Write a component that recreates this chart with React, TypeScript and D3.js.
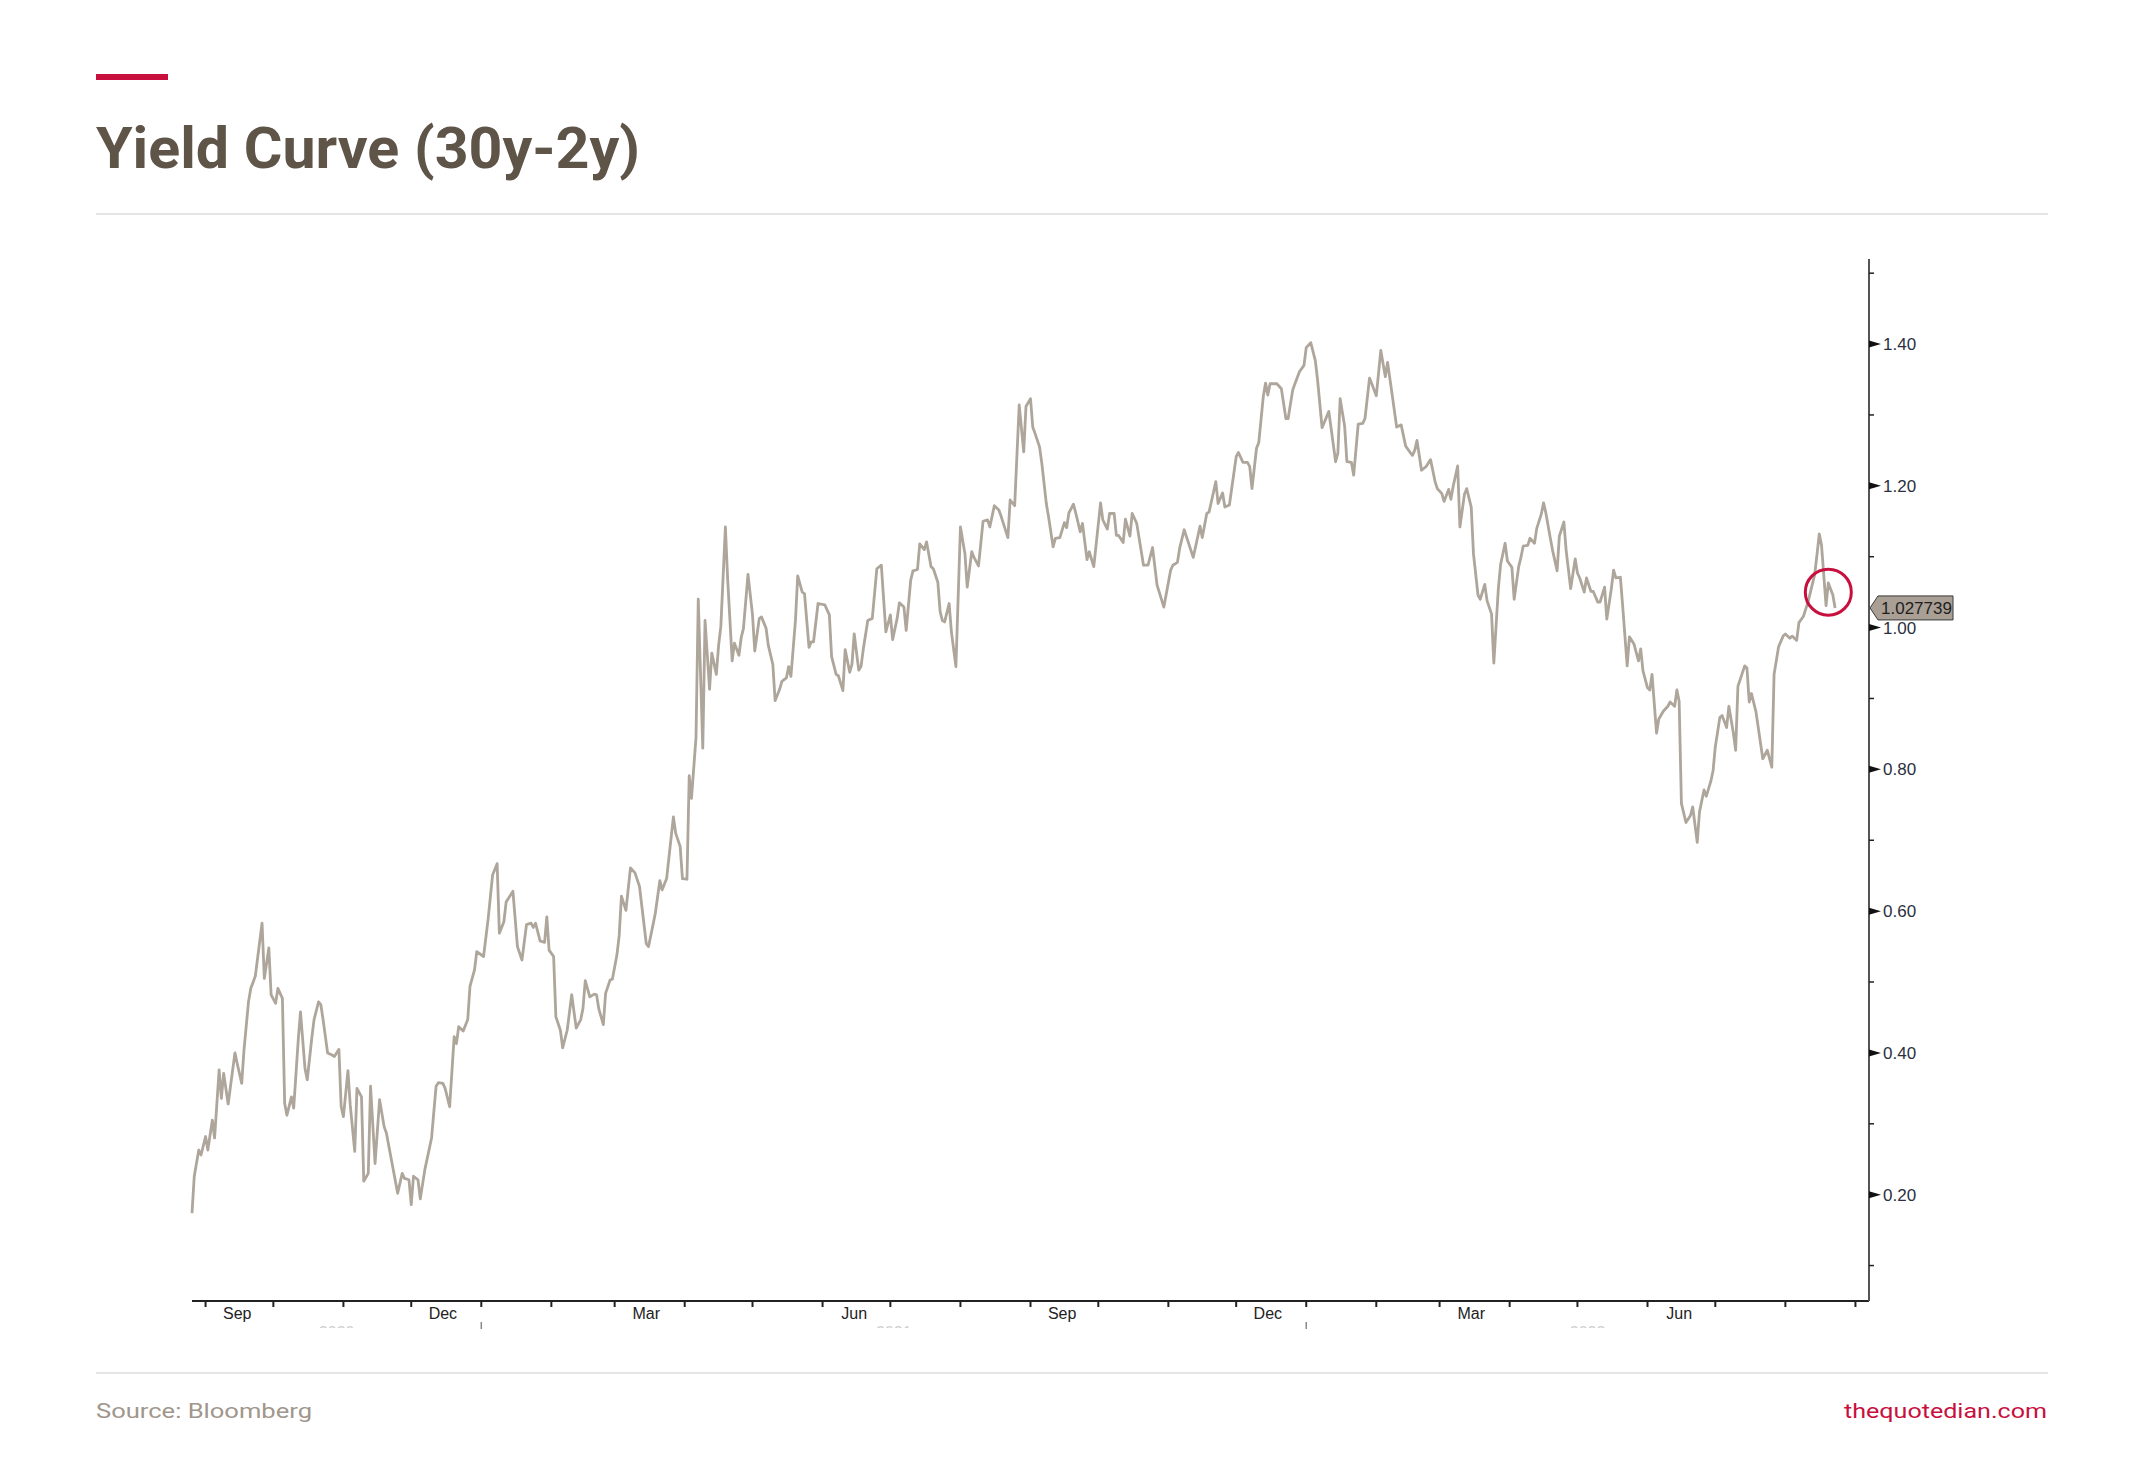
import { line, scaleLinear, scaleTime, timeDay, timeFormat, timeMonth } from 'd3';

const width = 2145;
const height = 1458;

// days counted from 2020-09-01
const days = [
	-6, -5, -3, -2, 0, 1, 3, 4, 6, 7, 8, 10, 11, 13, 14, 16, 17, 19, 20, 22, 25, 26, 28, 29, 31, 32, 34,
	35, 36, 38, 39, 41, 42, 44, 45, 47, 48, 50, 51, 52, 54, 56, 57, 59, 60, 61, 63, 64, 66, 67, 69, 70,
	72, 73, 75, 77, 79, 80, 85, 87, 88, 90, 91, 92, 94, 95, 97, 100, 102, 103, 105, 106, 108, 110, 111,
	112, 114, 116, 117, 119, 120, 123, 125, 127, 129, 130, 132, 133, 136, 138, 140, 142, 144, 145, 146,
	148, 150, 151, 152, 154, 155, 157, 158, 160, 162, 164, 166, 167, 168, 170, 172, 173,
	174, 176, 177, 179, 180, 182, 183, 184, 186, 188, 190, 192, 193, 195, 196, 198, 199, 201, 202, 204,
	207, 208, 210, 211, 213, 214, 215, 217, 218, 220, 221, 223, 224, 226, 227, 228, 230, 231, 233, 234,
	236, 237, 238, 240, 242, 243, 245, 246, 248, 249, 251, 252, 254, 255, 257, 258, 259, 261, 262, 264,
	265, 267, 268, 269, 271, 274, 276, 277, 279, 280, 282, 283, 285, 286, 287, 289, 290, 291, 293, 295,
	297, 299, 301, 303, 304, 306, 307, 309, 310, 312, 313, 315, 316, 318, 319, 321, 322, 324, 325, 326,
	327, 329, 330, 332, 334, 336, 337, 339, 340, 342, 344, 346, 347, 349, 351, 352, 355, 356,
	358, 360, 362, 363, 365, 366, 367, 369, 370, 372, 373, 375, 376, 378, 380, 381, 382, 384, 385, 387,
	388, 390, 391, 393, 396, 397, 399, 400, 402, 403, 404, 406, 407, 409, 410, 412, 415, 417, 419, 421,
	424, 427, 428, 430, 431, 433, 437, 440, 441, 443, 444, 447, 448, 450, 451, 453, 456, 457, 459, 461,
	462, 463, 465, 466, 468, 469, 470, 471, 474, 476, 478, 479, 481, 482, 484, 486, 487, 489, 491, 492,
	494, 497, 500, 501, 502, 504, 505, 507, 508, 510, 512, 513, 515, 516, 518, 520, 522, 523, 525, 527,
	529, 531, 533, 534, 535, 536, 538, 540, 542,
	544, 545, 547, 548, 550, 551, 552, 554, 555, 557, 558, 560, 561, 563, 564, 566, 567, 569, 570, 572,
	573, 575, 576, 578, 579, 581, 582, 583, 585, 586, 588, 589, 591, 592, 593, 595, 596, 598, 599, 601,
	602, 604, 606, 607, 608, 610, 611, 613, 614, 616, 617, 619, 620, 622, 623, 624, 626, 627, 629, 630,
	632, 634, 635, 636, 638, 639, 640, 642, 643, 645, 647, 648, 650, 651, 652, 653, 655, 657, 658, 660,
	661, 663, 664, 666, 667, 668, 670, 671, 673, 674, 676, 677, 678, 681, 682, 683, 684, 686, 688, 689,
	691, 693, 694, 696, 698, 699, 701, 702, 704, 705, 707, 709, 712, 714, 715, 717, 718, 720, 721,
];

const values = [
	0.174, 0.226, 0.263, 0.256, 0.282, 0.263, 0.305, 0.28, 0.376, 0.336, 0.371, 0.328, 0.352, 0.4, 0.385,
	0.357, 0.404, 0.472, 0.491, 0.508, 0.583, 0.505, 0.548, 0.482, 0.47, 0.491, 0.477, 0.329, 0.312,
	0.338, 0.322, 0.418, 0.458, 0.378, 0.362, 0.421, 0.447, 0.472, 0.468, 0.447, 0.4, 0.397, 0.395,
	0.405, 0.324, 0.31, 0.375, 0.327, 0.261, 0.35, 0.338, 0.219, 0.23, 0.353, 0.244, 0.334, 0.296, 0.287,
	0.202, 0.23, 0.223, 0.221, 0.186, 0.226, 0.221, 0.194, 0.235, 0.28, 0.353, 0.358, 0.357, 0.35, 0.324,
	0.423, 0.413, 0.437, 0.431, 0.447, 0.494, 0.517, 0.543, 0.536, 0.588, 0.651, 0.667, 0.569, 0.585,
	0.613, 0.628, 0.55, 0.531, 0.581, 0.583, 0.577, 0.583, 0.558, 0.556, 0.592, 0.545, 0.536, 0.451,
	0.432, 0.407, 0.432, 0.482, 0.435, 0.447, 0.463, 0.502, 0.479, 0.483, 0.482,
	0.462, 0.44, 0.484, 0.503, 0.504, 0.538, 0.565, 0.621, 0.601, 0.661, 0.654, 0.635, 0.608, 0.554,
	0.55, 0.581, 0.597, 0.643, 0.63, 0.646, 0.733, 0.71, 0.691, 0.646, 0.645, 0.791, 0.759, 0.845, 1.04,
	0.83, 1.01, 0.913, 0.964, 0.934, 0.975, 1.002, 1.142, 1.069, 0.953, 0.978, 0.961, 0.986, 0.999,
	1.075, 1.018, 0.967, 1.013, 1.015, 0.999, 0.975, 0.948, 0.897, 0.913, 0.924, 0.929, 0.945, 0.931,
	1.01, 1.073, 1.05, 1.048, 0.972, 0.98, 0.98, 1.034, 1.032, 1.018, 0.959, 0.934, 0.932, 0.911, 0.969,
	0.937, 0.948, 0.991, 0.94, 0.945, 0.969, 1.01, 1.013, 1.083, 1.088, 0.994, 1.018, 0.983, 1.013,
	1.035, 1.029, 0.996, 1.067, 1.08, 1.082, 1.118, 1.11, 1.121, 1.086, 1.083, 1.064, 1.023, 1.01, 1.008,
	1.034, 0.994, 0.945, 1.142, 1.104, 1.057, 1.107, 1.099, 1.087, 1.15, 1.152, 1.142, 1.172, 1.166,
	1.157, 1.127, 1.18,
	1.172, 1.314, 1.248, 1.312, 1.323, 1.283, 1.274, 1.255, 1.232, 1.175, 1.156, 1.114, 1.126, 1.127,
	1.148, 1.141, 1.162, 1.174, 1.162, 1.135, 1.147, 1.096, 1.107, 1.086, 1.176, 1.152, 1.139, 1.161,
	1.161, 1.13, 1.13, 1.12, 1.153, 1.129, 1.161, 1.147, 1.088, 1.088, 1.113, 1.06, 1.029, 1.081, 1.088,
	1.092, 1.112, 1.138, 1.099, 1.143, 1.127, 1.161, 1.163, 1.206, 1.175, 1.19, 1.17, 1.173, 1.241,
	1.247, 1.233, 1.233, 1.227, 1.196, 1.253, 1.261, 1.326, 1.345, 1.328, 1.344, 1.344, 1.337, 1.295,
	1.295, 1.335, 1.344, 1.361, 1.37, 1.395, 1.402, 1.377, 1.35, 1.282, 1.305, 1.234, 1.246, 1.323,
	1.284, 1.234, 1.233, 1.215, 1.287, 1.288, 1.295, 1.352, 1.344, 1.327, 1.391, 1.354, 1.374, 1.329,
	1.283, 1.286, 1.256, 1.247, 1.243, 1.25, 1.264, 1.222, 1.227, 1.237,
	1.206, 1.196, 1.189, 1.178, 1.195, 1.181, 1.199, 1.228, 1.142, 1.188, 1.196, 1.17, 1.104, 1.046,
	1.04, 1.061, 1.038, 1.019, 0.95, 1.055, 1.089, 1.119, 1.094, 1.085, 1.04, 1.086, 1.099, 1.115, 1.116,
	1.126, 1.119, 1.14, 1.16, 1.176, 1.162, 1.126, 1.109, 1.08, 1.129, 1.149, 1.109, 1.055, 1.097, 1.077,
	1.07, 1.05, 1.07, 1.051, 1.051, 1.036, 1.036, 1.057, 1.012, 1.055, 1.081, 1.07, 1.071, 1.031, 0.946,
	0.987, 0.977, 0.953, 0.97, 0.939, 0.915, 0.912, 0.934, 0.851, 0.871, 0.882, 0.889, 0.895, 0.889,
	0.912, 0.896, 0.752, 0.725, 0.735, 0.747, 0.697, 0.74, 0.771, 0.762, 0.783, 0.798, 0.832, 0.873,
	0.876, 0.859, 0.889, 0.851, 0.827, 0.917, 0.946, 0.943, 0.895, 0.907, 0.881, 0.837, 0.815, 0.827,
	0.803, 0.934, 0.973, 0.988, 0.991, 0.985, 0.988, 0.982, 1.007, 1.016, 1.036, 1.075, 1.132, 1.116,
	1.031, 1.063, 1.046, 1.027739,
];

const lastValue = 1.027739;
const majorTicks = [0.2, 0.4, 0.6, 0.8, 1.0, 1.2, 1.4];
const minorTicks = [0.1, 0.3, 0.5, 0.7, 0.9, 1.1, 1.3, 1.5];
const quarterMonths = [2, 5, 8, 11];
const yearLabels = ['2020', '2021', '2022'];

const base = new Date(2020, 8, 1);
const toDate = (d: number) => timeDay.offset(base, d);

const lineColor = '#aea59b';
const red = '#c8103e';

const margin = { left: 192, right: 1869, top: 259, bottom: 1301 };

const App = () => {
	const data = days.map((d, i) => ({ date: toDate(d), value: values[i] }));

	const xScale = scaleTime()
		.domain([toDate(-6), toDate(736)])
		.range([margin.left, margin.right]);
	const yScale = scaleLinear().domain([0.05, 1.52]).range([margin.bottom, margin.top]);

	const months = timeMonth.range(toDate(-6), toDate(737));
	const monthFormat = timeFormat('%b');
	const axisX = margin.right;
	const axisY = margin.bottom;

	const path =
		line<{ date: Date; value: number }>()
			.x(d => xScale(d.date))
			.y(d => yScale(d.value))(data) || '';

	const last = data[data.length - 1];
	const ly = yScale(lastValue);

	// year labels centred on the visible part of each year, clipped like the original
	const yearCentres = yearLabels.map(y => {
		const start = Math.max(+new Date(+y, 0, 1), +toDate(-6));
		const end = Math.min(+new Date(+y + 1, 0, 1), +toDate(736));
		return (xScale(new Date(start)) + xScale(new Date(end))) / 2;
	});

	const monthLabels = months
		.filter(m => quarterMonths.includes(m.getMonth()))
		.map(m => ({ m, x: xScale(new Date(m.getFullYear(), m.getMonth(), 15)) }))
		.filter(d => d.x < axisX);

	return (
		<svg
			width={width}
			height={height}
			style={{ position: 'absolute', left: 0, top: 0, background: '#fff' }}
		>
			<defs>
				<clipPath id="yearClip">
					<rect x={0} y={1322} width={width} height={6} />
				</clipPath>
			</defs>
			{/* header */}
			<rect x={96} y={74} width={72} height={6} fill={red} />
			<text
				x={96}
				y={168}
				fontFamily="Roboto"
				fontWeight={700}
				fontSize={58}
				fill="#5f5448"
				textLength={544}
				lengthAdjust="spacingAndGlyphs"
			>
				Yield Curve (30y-2y)
			</text>
			<line x1={96} x2={2048} y1={214} y2={214} stroke="#dcdcdc" strokeWidth={1.5} />

			{/* x axis */}
			<line x1={margin.left} x2={axisX} y1={axisY} y2={axisY} stroke="#222" strokeWidth={2} />
			{months.map(m => (
				<g key={+m}>
					<line
						x1={xScale(m)}
						x2={xScale(m)}
						y1={axisY}
						y2={axisY + 6}
						stroke="#222"
						strokeWidth={2}
					/>
					{m.getMonth() === 0 && (
						<line
							x1={xScale(m)}
							x2={xScale(m)}
							y1={axisY + 21}
							y2={axisY + 28}
							stroke="#888"
							strokeWidth={1.5}
						/>
					)}
				</g>
			))}
			{monthLabels.map(({ m, x }) => (
				<text
					key={'l' + +m}
					x={x}
					y={axisY + 18}
					textAnchor="middle"
					fontFamily="Liberation Sans"
					fontSize={16}
					fill="#222"
				>
					{monthFormat(m)}
				</text>
			))}
			<g clipPath="url(#yearClip)">
				{yearLabels.map((y, i) => (
					<text
						key={y}
						x={yearCentres[i]}
						y={1338}
						textAnchor="middle"
						fontFamily="Liberation Sans"
						fontSize={16}
						fill="#cfcfcf"
					>
						{y}
					</text>
				))}
			</g>

			{/* y axis */}
			<line x1={axisX} x2={axisX} y1={margin.top} y2={axisY} stroke="#555" strokeWidth={2} />
			{minorTicks.map(t => (
				<line
					key={'m' + t}
					x1={axisX}
					x2={axisX + 5}
					y1={yScale(t)}
					y2={yScale(t)}
					stroke="#222"
					strokeWidth={1.5}
				/>
			))}
			{majorTicks.map(t => (
				<g key={t}>
					<polygon
						points={`${axisX},${yScale(t) - 3.5} ${axisX + 12},${yScale(t)} ${axisX},${
							yScale(t) + 3.5
						}`}
						fill="#111"
					/>
					<text
						x={axisX + 14}
						y={yScale(t)}
						dy="0.36em"
						fontFamily="Liberation Sans"
						fontSize={17}
						fill="#2a3040"
					>
						{t.toFixed(2)}
					</text>
				</g>
			))}

			{/* series */}
			<path
				d={path}
				fill="none"
				stroke={lineColor}
				strokeWidth={2.8}
				strokeLinejoin="round"
			/>

			{/* highlight */}
			<circle
				cx={xScale(toDate(718))}
				cy={yScale(1.05)}
				r={23}
				fill="none"
				stroke={red}
				strokeWidth={3}
			/>

			{/* last value tag */}
			<polygon
				points={`${axisX + 1},${ly} ${axisX + 9},${ly - 12} ${axisX + 84},${ly - 12} ${
					axisX + 84
				},${ly + 12} ${axisX + 9},${ly + 12}`}
				fill="#a99f94"
				stroke="#3a3a3a"
				strokeWidth={1}
			/>
			<text
				x={axisX + 12}
				y={ly}
				dy="0.36em"
				fontFamily="Liberation Sans"
				fontSize={17}
				fill="#1e1e1e"
			>
				{last.value.toFixed(6)}
			</text>

			{/* footer */}
			<line x1={96} x2={2048} y1={1373} y2={1373} stroke="#dcdcdc" strokeWidth={1.5} />
			<text
				x={96}
				y={1418}
				fontFamily="Roboto"
				fontSize={21}
				fill="#a0968c"
				textLength={216}
				lengthAdjust="spacingAndGlyphs"
			>
				Source: Bloomberg
			</text>
			<text
				x={1844}
				y={1418}
				fontFamily="Roboto"
				fontSize={21}
				fill={red}
				textLength={203}
				lengthAdjust="spacingAndGlyphs"
			>
				thequotedian.com
			</text>
		</svg>
	);
};

export default App;
